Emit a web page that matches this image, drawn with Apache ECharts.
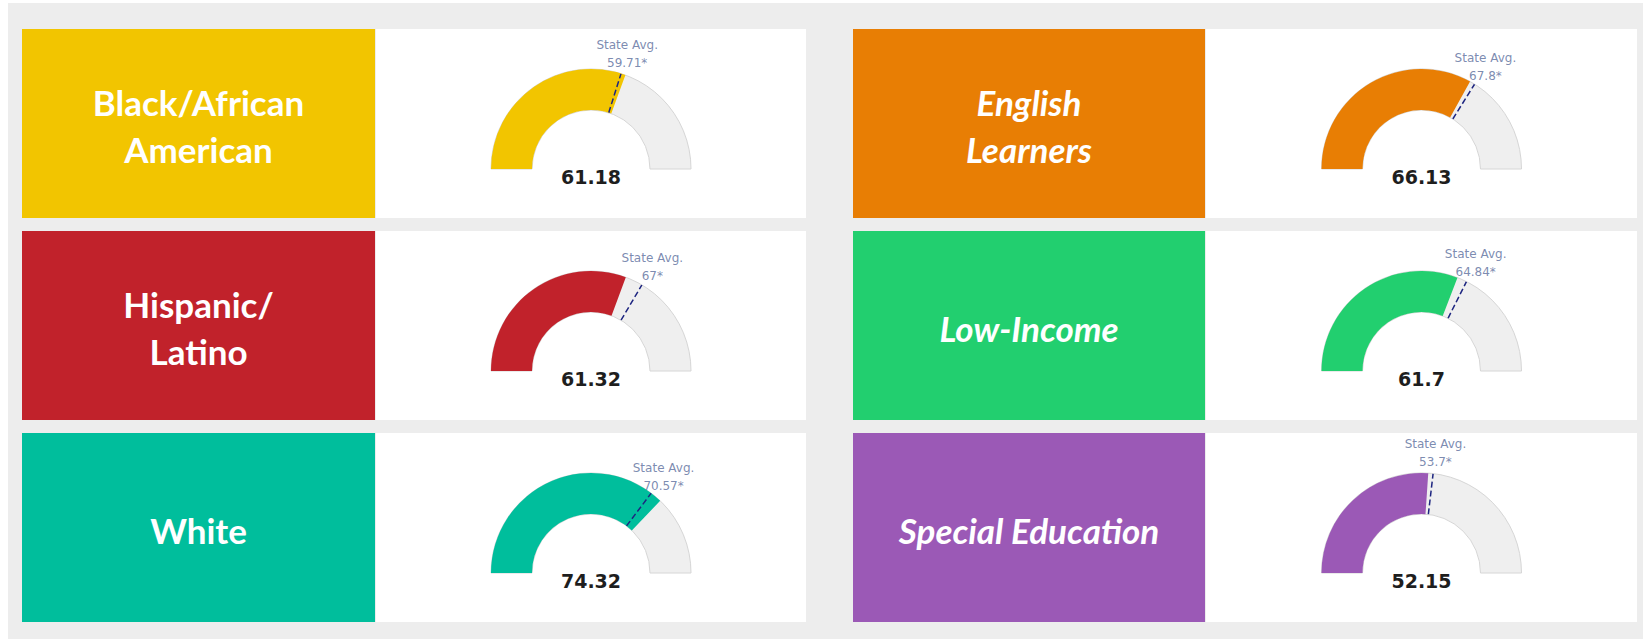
<!DOCTYPE html>
<html>
<head>
<meta charset="utf-8">
<script src="https://cdn.jsdelivr.net/npm/echarts@6/dist/echarts.min.js"></script>
<style>
  html, body { margin: 0; padding: 0; background: #fff; }
  #chart { width: 1651px; height: 641px; }
</style>
</head>
<body>
<div id="chart"></div>
<script>
// data
var groupLabels = ['Black/African\nAmerican', 'English\nLearners', 'Hispanic/\nLatino', 'Low-Income', 'White', 'Special Education'];
var scores = [61.18, 66.13, 61.32, 61.7, 74.32, 52.15];
var stateAvg = [59.71, 67.8, 67, 64.84, 70.57, 53.7];
var scaleMin = 0;
var scaleMax = 100;

// looks
var colors = ['#f2c500', '#e87e04', '#c1222b', '#22cf6f', '#00be9c', '#9b59b6'];
var italic = [false, true, false, true, false, true];

var rowTop = [29, 231, 433];
var rowH = 189;
var cols = [
  {labelX: 22, labelW: 353, boxX: 376, boxW: 430},
  {labelX: 853, labelW: 352, boxX: 1206, boxW: 431}
];

var graphic = [
  {type: 'rect', shape: {x: 8, y: 3, width: 1635, height: 636}, style: {fill: '#ededed'}, z: -10}
];
var polar = [], angleAxis = [], radiusAxis = [], series = [];

groupLabels.forEach(function (name, i) {
  var c = cols[i % 2];
  var top = rowTop[Math.floor(i / 2)];
  var cx = c.boxX + c.boxW / 2;
  var cy = top + 140;

  graphic.push({type: 'rect', shape: {x: c.labelX, y: top, width: c.labelW, height: rowH}, style: {fill: colors[i]}});
  graphic.push({type: 'rect', shape: {x: c.boxX, y: top, width: c.boxW, height: rowH}, style: {fill: '#fff'}});
  graphic.push({
    type: 'text', x: c.labelX + c.labelW / 2, y: top + rowH / 2 + 2,
    style: {
      text: name, fill: '#fff', align: 'center', verticalAlign: 'middle',
      fontFamily: 'Lato', fontWeight: 'bold', fontSize: 35, lineHeight: 47,
      fontStyle: italic[i] ? 'italic' : 'normal'
    }
  });
  graphic.push({
    type: 'text', x: cx, y: cy + 8,
    style: {
      text: String(scores[i]), fill: '#1e1e1e', align: 'center', verticalAlign: 'middle',
      fontFamily: 'DejaVu Sans', fontWeight: 'bold', fontSize: 19
    }
  });

  // three polars on top of each other: grey track, score arc, state average marker
  var p = 3 * i;
  for (var k = 0; k < 3; k++) {
    polar.push({center: [cx, cy], radius: [59, 100]});
    angleAxis.push({polarIndex: p + k, type: 'value', min: scaleMin, max: scaleMax,
      startAngle: 180, endAngle: 0, show: false});
  }
  radiusAxis.push({polarIndex: p, type: 'category', data: ['track'], show: false});
  radiusAxis.push({polarIndex: p + 1, type: 'category', data: ['score'], show: false});
  radiusAxis.push({polarIndex: p + 2, type: 'value', min: 0, max: 1, show: false});

  series.push({
    type: 'bar', coordinateSystem: 'polar', polarIndex: p,
    data: [scaleMax], barWidth: '100%', silent: true, z: 1,
    itemStyle: {color: '#efefef', borderColor: '#d6d6d6', borderWidth: 1}
  });
  series.push({
    type: 'bar', coordinateSystem: 'polar', polarIndex: p + 1,
    data: [scores[i]], barWidth: '100%', silent: true, z: 2,
    itemStyle: {color: colors[i]}
  });
  series.push({
    type: 'line', coordinateSystem: 'polar', polarIndex: p + 2,
    data: [[0, stateAvg[i]], [1, stateAvg[i]]], symbol: 'none', clip: false, silent: true, z: 5,
    lineStyle: {type: 'dashed', color: '#1d2580', width: 1.5}
  });
  series.push({
    type: 'scatter', coordinateSystem: 'polar', polarIndex: p + 2,
    data: [[1.5, stateAvg[i]]], symbolSize: 1, clip: false, silent: true, z: 6,
    itemStyle: {color: 'transparent'},
    label: {
      show: true, position: 'inside', formatter: 'State Avg.\n' + stateAvg[i] + '*',
      color: '#5a6d9c', fontFamily: 'DejaVu Sans', fontSize: 12, lineHeight: 18
    }
  });
});

var chart = echarts.init(document.getElementById('chart'), null, {renderer: 'svg'});
chart.setOption({
  animation: false,
  graphic: graphic,
  polar: polar,
  angleAxis: angleAxis,
  radiusAxis: radiusAxis,
  series: series
});
</script>
</body>
</html>
